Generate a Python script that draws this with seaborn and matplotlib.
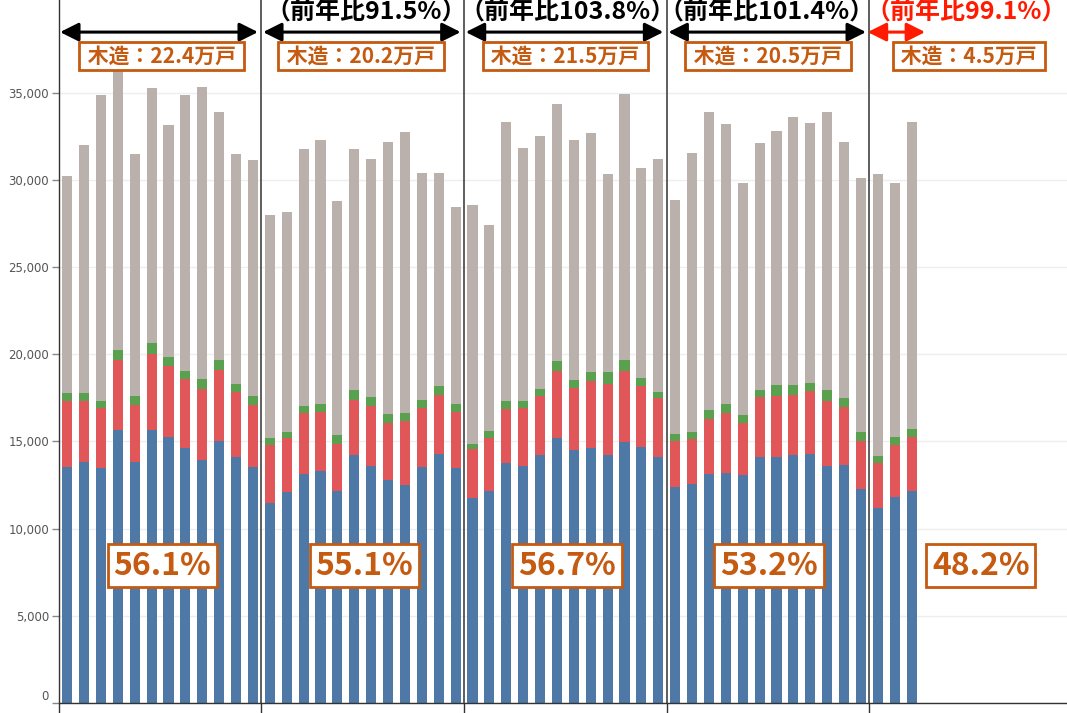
#!/usr/bin/env python3

import numpy as np
import pandas as pd
import seaborn as sns
import matplotlib.pyplot as plt

BLUE = "#4e79a7"
RED = "#e15759"
GREEN = "#59a14f"
GREY = "#bab0ac"
ORANGE = "#c55a11"
ARROW_RED = "#ff1a00"

# monthly values (4 full years + 3 months), bottom to top of each stack
blue = [13510, 13820, 13460, 15650, 13820, 15650, 15240, 14640, 13930, 15040, 14120, 13510,
        11450, 12080, 13130, 13320, 12160, 14220, 13610, 12790, 12500, 13530, 14300, 13480,
        11740, 12160, 13740, 13610, 14220, 15200, 14510, 14640, 14220, 14990, 14700, 14090,
        12370, 12580, 13130, 13190, 13060, 14090, 14090, 14220, 14300, 13610, 13670, 12290,
        11200, 11810, 12160]
red = [3800, 3500, 3460, 4010, 3290, 4360, 4090, 3920, 4070, 4070, 3690, 3590,
       3330, 3120, 3500, 3390, 2700, 3170, 3440, 3290, 3650, 3380, 3360, 3230,
       2830, 3040, 3100, 3310, 3380, 3860, 3570, 3800, 4070, 4070, 3460, 3380,
       2670, 2540, 3150, 3440, 3020, 3440, 3520, 3440, 3570, 3730, 3310, 2750,
       2540, 2960, 3100]
green = [440, 440, 400, 610, 500, 610, 500, 480, 560, 550, 480, 500,
         420, 340, 420, 420, 480, 550, 480, 500, 500, 480, 500, 420,
         290, 420, 500, 420, 420, 560, 420, 530, 690, 610, 480, 340,
         360, 420, 500, 500, 420, 420, 630, 570, 500, 610, 500, 500,
         420, 480, 480]
grey = [12460, 14260, 17550, 17220, 13860, 14620, 13300, 15830, 16780, 14200, 13170, 13530,
        12810, 12620, 14700, 15180, 13460, 13800, 13670, 15600, 16080, 12980, 12220, 11320,
        13720, 11780, 16000, 14470, 14490, 14700, 13800, 13690, 11340, 15270, 12020, 13380,
        13440, 16000, 17100, 16080, 13320, 14140, 14560, 15370, 14910, 15940, 14700, 14560,
        16150, 14560, 17600]

wood_labels = ["木造：22.4万戸", "木造：20.2万戸", "木造：21.5万戸", "木造：20.5万戸", "木造：4.5万戸"]
share_labels = ["56.1%", "55.1%", "56.7%", "53.2%", "48.2%"]
yoy_labels = ["（前年比91.5%）", "（前年比103.8%）", "（前年比101.4%）", "（前年比99.1%）"]


def main():
    df = pd.DataFrame({"month": np.arange(len(blue)), "blue": blue, "red": red,
                       "green": green, "grey": grey})
    df["top1"] = df["blue"]
    df["top2"] = df["top1"] + df["red"]
    df["top3"] = df["top2"] + df["green"]
    df["top4"] = df["top3"] + df["grey"]

    sns.set_theme(style="white")
    plt.rcParams["font.family"] = ["DejaVu Sans"]
    jp = ["Noto Sans CJK JP", "DejaVu Sans"]

    fig = plt.figure(figsize=(10.67, 7.13), dpi=100)
    ax = fig.add_axes([0.055, 0.014, 0.945, 0.986])

    # draw the stacks as overlapping cumulative bars, tallest first
    for col, color in [("top4", GREY), ("top3", GREEN), ("top2", RED), ("top1", BLUE)]:
        sns.barplot(data=df, x="month", y=col, color=color, width=0.6,
                    saturation=1, linewidth=0, errorbar=None, ax=ax)

    ax.set_xlim(-0.5, 59.2)
    ax.set_ylim(0, 40310)
    ax.set_xlabel("")
    ax.set_ylabel("")

    ax.set_yticks(range(0, 35001, 5000))
    ax.set_yticklabels([f"{v:,}" for v in range(0, 35001, 5000)])
    ax.get_yticklabels()[0].set_verticalalignment("bottom")
    ax.tick_params(axis="y", length=5, width=1, color="#888888", labelsize=8.5,
                   labelcolor="#555555", pad=2, left=True)

    bounds = [-0.5, 11.5, 23.5, 35.5, 47.5]
    ax.set_xticks(bounds)
    ax.set_xticklabels([])
    ax.tick_params(axis="x", length=8, width=1, color="#333333", bottom=True)

    ax.yaxis.grid(True, color="#eeeeee", lw=1)
    ax.set_axisbelow(True)
    for s in ["top", "right"]:
        ax.spines[s].set_visible(False)
    for s in ["left", "bottom"]:
        ax.spines[s].set_color("#333333")
        ax.spines[s].set_linewidth(1)

    for b in bounds[1:]:
        ax.axvline(b, color="#333333", lw=1.1, zorder=1)

    # year spans
    spans = [(-0.42, 11.3), (11.6, 23.3), (23.6, 35.3), (35.6, 47.3)]
    for a, b in spans:
        ax.annotate("", xy=(b, 38470), xytext=(a, 38470),
                    arrowprops=dict(arrowstyle="<|-|>,head_length=0.8,head_width=0.4",
                                    color="black", lw=2.2, mutation_scale=14,
                                    shrinkA=0, shrinkB=0))
    ax.annotate("", xy=(50.8, 38470), xytext=(47.4, 38470),
                arrowprops=dict(arrowstyle="<|-|>,head_length=0.8,head_width=0.4",
                                color=ARROW_RED, lw=2.2, mutation_scale=14,
                                shrinkA=0, shrinkB=0))

    wood_x = [5.6, 17.4, 29.5, 41.5, 53.4]
    for x, t in zip(wood_x, wood_labels):
        ax.text(x, 37100, " " + t + " ", ha="center", va="center", fontsize=15,
                fontweight="bold", color=ORANGE, family=jp,
                bbox=dict(boxstyle="square,pad=0.18", fc="white", ec=ORANGE, lw=2))

    share_x = [5.65, 17.6, 29.6, 41.55, 54.1]
    for x, t in zip(share_x, share_labels):
        ax.text(x, 7880, t, ha="center", va="center", fontsize=23,
                fontweight="bold", color=ORANGE, family=jp,
                bbox=dict(boxstyle="square,pad=0.18", fc="white", ec=ORANGE, lw=2))

    yoy_x = [17.7, 29.6, 41.4, 53.2]
    for i, (x, t) in enumerate(zip(yoy_x, yoy_labels)):
        c = ARROW_RED if i == len(yoy_labels) - 1 else "black"
        ax.text(x, 39620, t, ha="center", va="center", fontsize=18,
                fontweight="bold", color=c, family=jp, clip_on=False)

    plt.savefig("out.png", dpi=100)


if __name__ == "__main__":
    main()
